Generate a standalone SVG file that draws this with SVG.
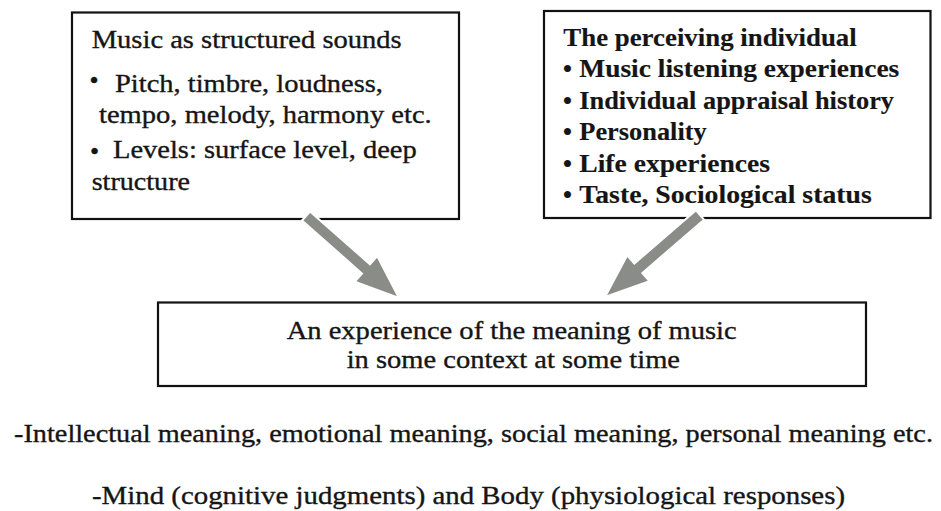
<svg xmlns="http://www.w3.org/2000/svg" width="941" height="511" viewBox="0 0 941 511">
<style>
.box{fill:#fff;stroke:#111;stroke-width:2.2}
.t{font-family:"Liberation Serif","Times New Roman",serif;font-size:26px;fill:#151515;stroke:#151515;stroke-width:0.35}
.b{font-weight:bold;stroke-width:0.15;font-size:25.5px}
.arrow{fill:#8a8c88;stroke:#fff;stroke-width:2;stroke-linejoin:miter}
</style>
<rect width="941" height="511" fill="#fff"/>
<g id="node-music">
<rect class="box" x="72" y="12.5" width="387" height="206.5"/>
<text class="t" x="91.7" y="48.3" textLength="310" lengthAdjust="spacingAndGlyphs">Music as structured sounds</text>
<text class="t" x="89.5" y="89" font-size="36">•</text>
<text class="t" x="115" y="91.7" textLength="268" lengthAdjust="spacingAndGlyphs">Pitch, timbre, loudness,</text>
<text class="t" x="99" y="122.5" textLength="332.7" lengthAdjust="spacingAndGlyphs">tempo, melody, harmony etc.</text>
<text class="t" x="90" y="160" font-size="33">•</text>
<text class="t" x="113" y="157.5" textLength="303.7" lengthAdjust="spacingAndGlyphs">Levels: surface level, deep</text>
<text class="t" x="91.7" y="190" textLength="98.3" lengthAdjust="spacingAndGlyphs">structure</text>
</g>
<g id="node-individual">
<rect class="box" x="544" y="11" width="386.5" height="207"/>
<text class="t b" x="563.3" y="46" textLength="293.4" lengthAdjust="spacingAndGlyphs">The perceiving individual</text>
<text class="t b" x="563" y="77">•</text>
<text class="t b" x="579.3" y="77" textLength="320" lengthAdjust="spacingAndGlyphs">Music listening experiences</text>
<text class="t b" x="563" y="108.5">•</text>
<text class="t b" x="579.3" y="108.5" textLength="314.7" lengthAdjust="spacingAndGlyphs">Individual appraisal history</text>
<text class="t b" x="563" y="140">•</text>
<text class="t b" x="579.3" y="140" textLength="127.4" lengthAdjust="spacingAndGlyphs">Personality</text>
<text class="t b" x="563" y="171.5">•</text>
<text class="t b" x="579.3" y="171.5" textLength="190.7" lengthAdjust="spacingAndGlyphs">Life experiences</text>
<text class="t b" x="563" y="202.5">•</text>
<text class="t b" x="579.3" y="202.5" textLength="292.4" lengthAdjust="spacingAndGlyphs">Taste, Sociological status</text>
</g>
<g id="node-experience">
<rect class="box" x="158" y="302.5" width="708" height="83.5"/>
<text class="t" x="286.7" y="339" font-size="27" textLength="450" lengthAdjust="spacingAndGlyphs">An experience of the meaning of music</text>
<text class="t" x="346.7" y="367.5" font-size="27" textLength="333.3" lengthAdjust="spacingAndGlyphs">in some context at some time</text>
</g>
<g id="connectors">
<polygon class="arrow" points="302,220.5 362,273.5 354.8,281.7 399,298 377.2,256.1 370,264.3 310,211.5"/>
<polygon class="arrow" points="696,210.3 634.3,263.6 627.2,255.4 605,297 649.4,281.2 642.3,273 704,219.7"/>
</g>
<g id="notes">
<text class="t" x="14" y="442" font-size="29" textLength="919" lengthAdjust="spacingAndGlyphs">-Intellectual meaning, emotional meaning, social meaning, personal meaning etc.</text>
<text class="t" x="92" y="504" font-size="29" textLength="753" lengthAdjust="spacingAndGlyphs">-Mind (cognitive judgments) and Body (physiological responses)</text>
</g>
</svg>
